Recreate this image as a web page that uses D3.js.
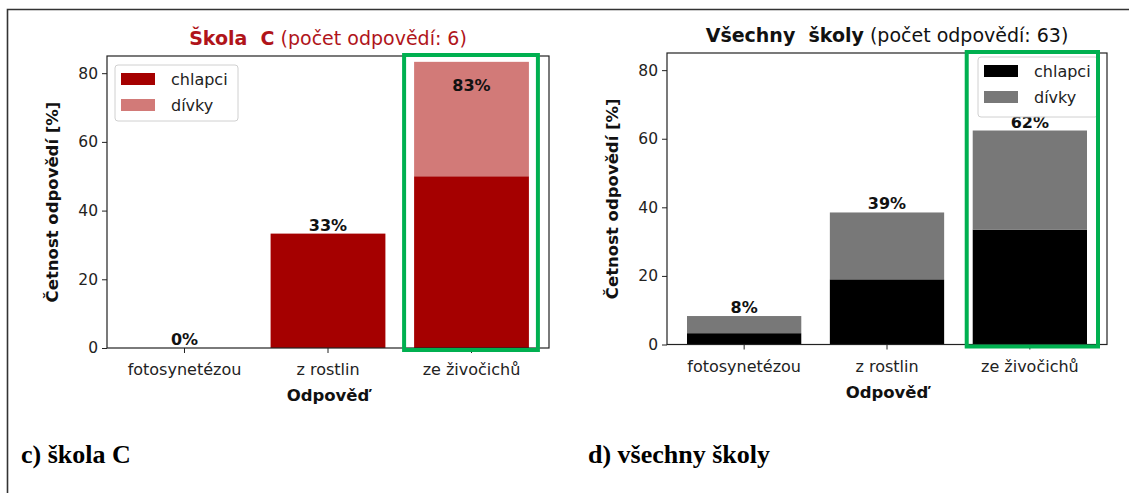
<!DOCTYPE html>
<html>
<head>
<meta charset="utf-8">
<script src="https://cdn.jsdelivr.net/npm/d3@7"></script>
<style>
  html, body { margin: 0; padding: 0; background: #fff; }
  svg { display: block; }
  text { white-space: pre; }
</style>
</head>
<body>
<svg id="fig" width="1129" height="493"></svg>
<script>
// Response categories
const categories = ["fotosynetézou", "z rostlin", "ze živočichů"];
const seriesNames = ["chlapci", "dívky"];

// School C — share of answers [%]
const schoolC_boys  = [0, 33.3, 50.0];
const schoolC_girls = [0, 0, 33.3];

// All schools — share of answers [%]
const all_boys  = [3.3, 19.0, 33.5];
const all_girls = [5.0, 19.5, 28.9];

const yTicks = [0, 20, 40, 60, 80];

const svg = d3.select("#fig");
const FONT = "'DejaVu Sans', sans-serif";

// Outer frame around both panels
svg.append("path")
  .attr("d", "M7.5,493 L7.5,9.5 L1129,9.5")
  .attr("fill", "none").attr("stroke", "#333").attr("stroke-width", 1.6);

function panel(opts) {
  const { left, right, top, bottom, boys, girls, colors, titleBold, titleRest,
          titleColor, legend, highlight, hlPad, caption, captionX } = opts;
  const g = svg.append("g");

  const x = d3.scaleBand().domain(categories).range([left, right])
    .paddingInner(0.2).paddingOuter(0.14);
  const y = d3.scaleLinear().domain([0, 85]).range([bottom, top]);

  const rows = categories.map((c, i) => ({ c, b: boys[i], g: girls[i], t: boys[i] + girls[i] }));

  // stacked bars: boys at bottom, girls on top
  g.selectAll("rect.b").data(rows).join("rect")
    .attr("x", d => x(d.c)).attr("width", x.bandwidth())
    .attr("y", d => y(d.b)).attr("height", d => y(0) - y(d.b))
    .attr("fill", colors[0]);
  g.selectAll("rect.g").data(rows).join("rect")
    .attr("x", d => x(d.c)).attr("width", x.bandwidth())
    .attr("y", d => y(d.t)).attr("height", d => y(d.b) - y(d.t))
    .attr("fill", colors[1]);

  // value labels over each stack (tall stacks get the label inside)
  g.selectAll("text.val").data(rows).join("text")
    .attr("x", d => x(d.c) + x.bandwidth() / 2)
    .attr("y", d => (y(d.t) - 18 < top) ? y(d.t) + 29 : y(d.t) - 3)
    .attr("text-anchor", "middle")
    .attr("font-family", FONT).attr("font-weight", "bold").attr("font-size", 16)
    .attr("fill", "#111")
    .text(d => Math.round(d.t) + "%");

  // axes frame
  g.append("rect").attr("x", left).attr("y", top)
    .attr("width", right - left).attr("height", bottom - top)
    .attr("fill", "none").attr("stroke", "#222").attr("stroke-width", 1.2);

  // y axis
  const ya = g.append("g").attr("transform", `translate(${left},0)`)
    .call(d3.axisLeft(y).tickValues(yTicks).tickSize(5).tickPadding(4));
  ya.select(".domain").remove();
  ya.selectAll("line").attr("stroke", "#222");
  ya.selectAll("text").attr("font-family", FONT).attr("font-size", 15.5).attr("fill", "#222");

  // x axis
  const xa = g.append("g").attr("transform", `translate(0,${bottom})`)
    .call(d3.axisBottom(x).tickSize(5).tickPadding(11));
  xa.select(".domain").remove();
  xa.selectAll("line").attr("stroke", "#222");
  xa.selectAll("text").attr("font-family", FONT).attr("font-size", 16).attr("fill", "#222");

  // axis titles
  g.append("text")
    .attr("transform", `translate(${left - 49},${(top + bottom) / 2}) rotate(-90)`)
    .attr("text-anchor", "middle")
    .attr("font-family", FONT).attr("font-weight", "bold").attr("font-size", 16.5)
    .attr("fill", "#111").text("Četnost odpovědí [%]");
  g.append("text")
    .attr("x", (left + right) / 2).attr("y", bottom + 53)
    .attr("text-anchor", "middle")
    .attr("font-family", FONT).attr("font-weight", "bold").attr("font-size", 16.5)
    .attr("fill", "#111").text("Odpověď");

  // panel title
  const t = g.append("text")
    .attr("x", (left + right) / 2).attr("y", top - 11)
    .attr("text-anchor", "middle")
    .attr("font-family", FONT).attr("font-size", 19).attr("fill", titleColor);
  t.append("tspan").attr("font-weight", "bold").text(titleBold);
  t.append("tspan").text(titleRest);

  // legend
  const lg = g.append("g").attr("transform", `translate(${legend[0]},${legend[1]})`);
  lg.append("rect").attr("x", 0).attr("y", 0).attr("width", legend[2]).attr("height", legend[3])
    .attr("rx", 3).attr("fill", "#fff").attr("fill-opacity", 0.9)
    .attr("stroke", "#d0d0d0");
  seriesNames.forEach((name, i) => {
    lg.append("rect").attr("x", 6).attr("y", 8 + i * 26).attr("width", 34).attr("height", 12)
      .attr("fill", colors[i]);
    lg.append("text").attr("x", 56).attr("y", 20 + i * 26)
      .attr("font-family", FONT).attr("font-size", 16).attr("fill", "#222").text(name);
  });

  // highlighted answer
  const hc = categories[highlight];
  g.append("rect")
    .attr("x", x(hc) - hlPad[0]).attr("y", top - 1)
    .attr("width", x.bandwidth() + hlPad[0] + hlPad[1]).attr("height", bottom - top + 3)
    .attr("fill", "none").attr("stroke", "#00b050").attr("stroke-width", 4);

  // caption under the panel
  svg.append("text").attr("x", captionX).attr("y", 463)
    .attr("font-family", "'Liberation Serif', 'Times New Roman', serif")
    .attr("font-weight", "bold").attr("font-size", 26).attr("fill", "#000")
    .text(caption);
}

panel({
  left: 107, right: 549, top: 56, bottom: 348,
  boys: schoolC_boys, girls: schoolC_girls,
  colors: ["#a50000", "#d27a78"],
  titleBold: "Škola  C", titleRest: " (počet odpovědí: 6)", titleColor: "#b0141a",
  legend: [115, 65, 123, 56], highlight: 2, hlPad: [10, 9],
  caption: "c) škola C", captionX: 21
});

panel({
  left: 667, right: 1107, top: 53, bottom: 344.5,
  boys: all_boys, girls: all_girls,
  colors: ["#000000", "#787878"],
  titleBold: "Všechny  školy", titleRest: " (počet odpovědí: 63)", titleColor: "#111",
  legend: [978, 57, 120, 60], highlight: 2, hlPad: [6, 11],
  caption: "d) všechny školy", captionX: 588
});
</script>
</body>
</html>
